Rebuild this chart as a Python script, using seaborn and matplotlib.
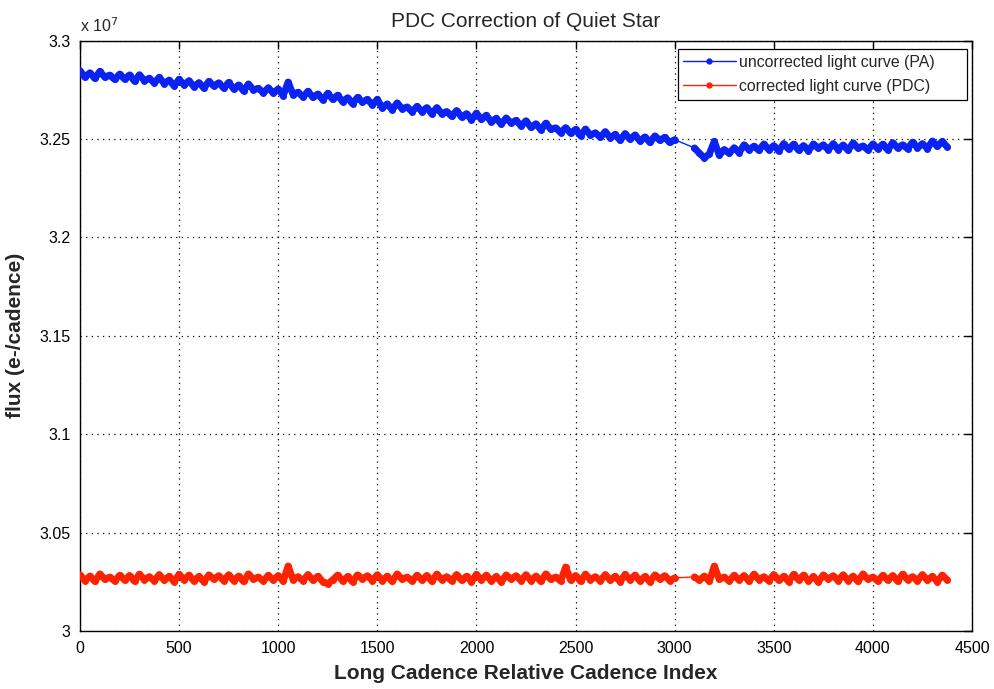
import numpy as np
import pandas as pd
import matplotlib
matplotlib.use("Agg")
import matplotlib.pyplot as plt
import seaborn as sns
from matplotlib.lines import Line2D
from matplotlib.ticker import FuncFormatter

# ---------------- data (flux in units of 1e7 e-/cadence) ----------------
cadence_a = list(range(0, 3001, 25))      # 121 cadences before the gap
cadence_b = list(range(3100, 4376, 25))   # 52 cadences after the gap

pa_flux_a = [
    3.2847, 3.2815, 3.2837, 3.2808, 3.2844, 3.2815, 3.2825, 3.2803, 3.2830, 3.2805,
    3.2826, 3.2794, 3.2827, 3.2797, 3.2809, 3.2785, 3.2814, 3.2782, 3.2800, 3.2770,
    3.2804, 3.2775, 3.2797, 3.2766, 3.2787, 3.2759, 3.2793, 3.2770, 3.2786, 3.2759,
    3.2788, 3.2755, 3.2775, 3.2745, 3.2780, 3.2750, 3.2758, 3.2735, 3.2761, 3.2734,
    3.2755, 3.2721, 3.2790, 3.2726, 3.2738, 3.2714, 3.2743, 3.2712, 3.2729, 3.2699,
    3.2733, 3.2702, 3.2723, 3.2690, 3.2710, 3.2680, 3.2712, 3.2688, 3.2702, 3.2674,
    3.2702, 3.2658, 3.2679, 3.2649, 3.2684, 3.2654, 3.2663, 3.2640, 3.2666, 3.2640,
    3.2660, 3.2628, 3.2660, 3.2629, 3.2640, 3.2616, 3.2645, 3.2612, 3.2629, 3.2598,
    3.2632, 3.2600, 3.2621, 3.2587, 3.2606, 3.2576, 3.2607, 3.2582, 3.2595, 3.2567,
    3.2593, 3.2559, 3.2578, 3.2547, 3.2581, 3.2550, 3.2557, 3.2533, 3.2558, 3.2530,
    3.2549, 3.2517, 3.2551, 3.2520, 3.2532, 3.2509, 3.2538, 3.2506, 3.2524, 3.2494,
    3.2528, 3.2499, 3.2521, 3.2490, 3.2511, 3.2483, 3.2516, 3.2494, 3.2509, 3.2483,
    3.2497,
]
pa_flux_b = [
    3.2455, 3.2428, 3.2404, 3.2425, 3.2488, 3.2418, 3.2447, 3.2428, 3.2456, 3.2431, 3.2471, 3.2446,
    3.2464, 3.2443, 3.2475, 3.2446, 3.2467, 3.2440, 3.2477, 3.2449, 3.2474, 3.2444, 3.2467, 3.2440,
    3.2475, 3.2454, 3.2471, 3.2446, 3.2477, 3.2447, 3.2470, 3.2443, 3.2481, 3.2454, 3.2465, 3.2445,
    3.2475, 3.2451, 3.2474, 3.2445, 3.2482, 3.2455, 3.2471, 3.2451, 3.2484, 3.2456, 3.2477, 3.2452,
    3.2490, 3.2463, 3.2488, 3.2460,
]

pdc_flux_a = [
    3.0286, 3.0256, 3.0279, 3.0252, 3.0290, 3.0263, 3.0274, 3.0254, 3.0283, 3.0259,
    3.0282, 3.0253, 3.0289, 3.0261, 3.0276, 3.0255, 3.0287, 3.0258, 3.0278, 3.0251,
    3.0288, 3.0260, 3.0284, 3.0254, 3.0277, 3.0250, 3.0285, 3.0264, 3.0281, 3.0256,
    3.0286, 3.0256, 3.0279, 3.0252, 3.0290, 3.0263, 3.0274, 3.0254, 3.0283, 3.0259,
    3.0282, 3.0253, 3.0330, 3.0261, 3.0276, 3.0255, 3.0287, 3.0258, 3.0278, 3.0251,
    3.0240, 3.0260, 3.0284, 3.0254, 3.0277, 3.0250, 3.0285, 3.0264, 3.0281, 3.0256,
    3.0286, 3.0256, 3.0279, 3.0252, 3.0290, 3.0263, 3.0274, 3.0254, 3.0283, 3.0259,
    3.0282, 3.0253, 3.0289, 3.0261, 3.0276, 3.0255, 3.0287, 3.0258, 3.0278, 3.0251,
    3.0288, 3.0260, 3.0284, 3.0254, 3.0277, 3.0250, 3.0285, 3.0264, 3.0281, 3.0256,
    3.0286, 3.0256, 3.0279, 3.0252, 3.0290, 3.0263, 3.0274, 3.0254, 3.0325, 3.0259,
    3.0282, 3.0253, 3.0289, 3.0261, 3.0276, 3.0255, 3.0287, 3.0258, 3.0278, 3.0251,
    3.0288, 3.0260, 3.0284, 3.0254, 3.0277, 3.0250, 3.0285, 3.0264, 3.0281, 3.0256,
    3.0270,
]
pdc_flux_b = [
    3.0275, 3.0258, 3.0279, 3.0252, 3.0330, 3.0263, 3.0274, 3.0254, 3.0283, 3.0259, 3.0282, 3.0253,
    3.0289, 3.0261, 3.0276, 3.0255, 3.0287, 3.0258, 3.0278, 3.0251, 3.0288, 3.0260, 3.0284, 3.0254,
    3.0277, 3.0250, 3.0285, 3.0264, 3.0281, 3.0256, 3.0286, 3.0256, 3.0279, 3.0252, 3.0290, 3.0263,
    3.0274, 3.0254, 3.0283, 3.0259, 3.0282, 3.0253, 3.0289, 3.0261, 3.0276, 3.0255, 3.0287, 3.0258,
    3.0278, 3.0251, 3.0284, 3.0260,
]

series_labels = ["uncorrected light curve (PA)", "corrected light curve (PDC)"]
x_ticks = [0, 500, 1000, 1500, 2000, 2500, 3000, 3500, 4000, 4500]
y_ticks = [3.0, 3.05, 3.1, 3.15, 3.2, 3.25, 3.3]

# ---------------- build table ----------------
flux_by_series = {series_labels[0]: (pa_flux_a, pa_flux_b),
                  series_labels[1]: (pdc_flux_a, pdc_flux_b)}
frames = []
for lab, (fa, fb) in flux_by_series.items():
    frames.append(pd.DataFrame({"cadence": cadence_a, "flux": fa,
                                "series": lab, "segment": 0}))
    frames.append(pd.DataFrame({"cadence": cadence_b, "flux": fb,
                                "series": lab, "segment": 1}))
df = pd.concat(frames, ignore_index=True)

BLUE = "#0a22f2"
RED = "#ff2200"
palette = {series_labels[0]: BLUE, series_labels[1]: RED}

sns.set_style("white")
plt.rcParams["font.family"] = ["Liberation Sans", "DejaVu Sans"]

fig = plt.figure(figsize=(9.95, 6.89), dpi=100)
ax = fig.add_axes([80 / 995, 58 / 689, 892 / 995, 590.3 / 689])

# thin connectors across the 3000-3100 data gap
for lab, (fa, fb) in flux_by_series.items():
    ax.plot([cadence_a[-1], cadence_b[0]], [fa[-1], fb[0]],
            color=palette[lab], lw=1.0, zorder=2)

sns.lineplot(data=df, x="cadence", y="flux", hue="series", units="segment",
             palette=palette, estimator=None, sort=False, marker="o",
             markersize=5, markeredgewidth=0, linewidth=5.0, legend=False,
             ax=ax, zorder=3)

ax.set_xlim(0, 4500)
ax.set_ylim(3.0, 3.3)
ax.set_xticks(x_ticks)
ax.set_yticks(y_ticks)
ax.yaxis.set_major_formatter(FuncFormatter(lambda v, p: f"{v:g}"))
ax.xaxis.set_major_formatter(FuncFormatter(lambda v, p: f"{v:g}"))

ax.grid(True, color="black", linestyle=(0, (1, 3.5)), linewidth=0.9)
ax.tick_params(direction="in", top=True, right=True, length=6, width=1,
               labelsize=11.5, colors="black", pad=7)
for s in ax.spines.values():
    s.set_color("black")
    s.set_linewidth(1.0)

ax.set_title("PDC Correction of Quiet Star", fontsize=15, pad=10)
ax.set_xlabel("Long Cadence Relative Cadence Index", fontsize=15,
              fontweight="bold", labelpad=6)
ax.set_ylabel("flux (e-/cadence)", fontsize=15, fontweight="bold", labelpad=10)
ax.text(0.0, 1.01, r"x 10$^{7}$", transform=ax.transAxes, ha="left",
        va="bottom", fontsize=11.5)

handles = [Line2D([0], [0], color=BLUE, lw=1, marker="o", markersize=3.5),
           Line2D([0], [0], color=RED, lw=1, marker="o", markersize=3.5)]
leg = ax.legend(handles, [lab + "      " for lab in series_labels],
                loc="upper right", bbox_to_anchor=(0.9944, 0.986),
                borderaxespad=0, fontsize=11.4, frameon=True, fancybox=False,
                framealpha=1, edgecolor="black", borderpad=0.35,
                handlelength=3.3, handletextpad=0.25, labelspacing=0.6)
leg.get_frame().set_linewidth(0.9)

fig.savefig("out.png", dpi=100)
